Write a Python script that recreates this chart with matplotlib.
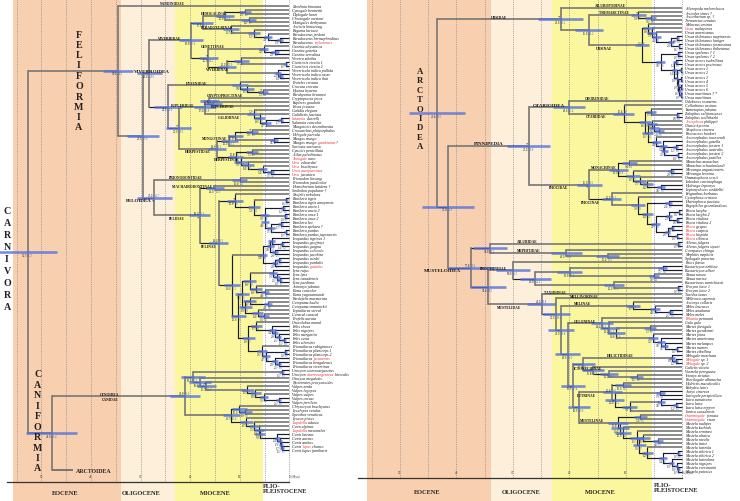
"""
Time-calibrated Carnivora tree: Feliformia + Cynoidea on the left,
Arctoidea (collapsed on the left) expanded on the right.
"""
import re

import matplotlib
matplotlib.use("Agg")
import matplotlib.pyplot as plt  # noqa: E402

plt.rcParams["font.family"] = ["Liberation Serif", "DejaVu Serif"]

OUT = "out.png"

# ── geological time scale (Mya) ───────────────────────────────────────────────
EPOCHS = ["EOCENE", "OLIGOCENE", "MIOCENE", "PLIO-\nPLEISTOCENE"]
EPOCH_OLD = [55.8, 33.9, 23.0, 5.3]
EPOCH_YOUNG = [33.9, 23.0, 5.3, 0.0]
EPOCH_FILL = ["#f8d0b0", "#fdefd9", "#fbf79e", "#ffffff"]
GRID_AGES = [55, 50, 45, 40, 35, 30, 25, 20, 15, 10, 5, 0]
TICK_AGES = [50, 40, 30, 20, 10]

# ── trees ─────────────────────────────────────────────────────────────────────
# "(a,b)AGE/ALT*~HW"  AGE node age (black), ALT second estimate (blue),
# * marked node, ~HW half-width of the blue interval bar.
# =NAME / _NAME  clade name above / below the stem, @AGE  where it is centred.
# [..] red part of a tip name, ^NAME@AGE collapsed clade.
HEMIGALINAE = ("((Cynogale bennettii,Diplogale hosei)9.0/8.1~1.2,"
               "(Chrotogale owstoni,Hemigalus derbyanus)8.2/7.1~1.5)12.9/11.4~1.8=HEMIGALINAE")
PARADOXURINAE = ("(Arctictis binturong,(Paguma larvata,(Paradoxurus jerdoni,"
                 "(Paradoxurus hermaphroditus,Paradoxurus [zeylonensis])1.9/1.7~0.6)4.3/3.8~0.9)"
                 "7.2/6.2~1.2)11.7/9.9~1.6=PARADOXURINAE")
GENETTINAE = ("(Genetta abyssinica,(Genetta genetta,Genetta servalina)2.9/2.6~0.8)"
              "5.2/4.6~1.0=GENETTINAE@15.5")
VIVERRINAE = ("((Viverra zibetha,(Civettictis civetta 1,Civettictis civetta 2)0.7/0.6~0.3)9.7/8.0~1.5,"
              "(Viverricula indica pallida,(Viverricula indica rasse,Viverricula indica thai)1.8/1.4~0.5)"
              "2.2/1.9~0.6)12.5/10.9~1.8_VIVERRINAE")
HYAENIDAE = ("(Proteles cristata,(Crocuta crocuta,(Hyaena hyaena,Parahyaena brunnea)5.3/4.7*~1.0)"
             "8.5/7.6~1.3)9.9/9.2~1.6=HYAENIDAE@18.6")
EUPLERIDAE = ("((Cryptoprocta ferox=CRYPTOPROCTINAE@13,(Eupleres goudotii,Fossa fossana)"
              "15.4/13.9~1.8_EUPLERINAE@13.5)16.1/13.8~2.0,(Galidia elegans,(Galidictis fasciata,"
              "(([Salanoia] durrelli,Salanoia concolor)1.7/1.5~0.5,Mungotictis decemlineata)4.7/3.9~1.0)"
              "6.0/5.3~1.1)7.2/6.3~1.3_GALIDIINAE)17.0/16.8~2.2=EUPLERIDAE@21.5")
HERPESTIDAE = ("((((Crossarchus platycephalus,Helogale parvula)7.6/6.8*~1.2,(Mungos mungo,"
               "Mungos mungo [gambianus] ?)3.1/2.7~0.8)10.9/9.6~1.5,Suricata suricatta)12.1/11.2~1.7"
               "=MUNGOTINAE@15,((Cynictis penicillata,Atilax paludinosus)7.5/6.6~1.2,([Xenogale] naso,"
               "([Urva] edwardsii,([Urva] brachyura,([Urva auropunctata],[Urva] javanica)3.7/3.2~0.7)"
               "5.4/4.9~0.9)8.4/7.4~1.2)9.8/8.6~1.4)10.8/9.6~1.5_HERPESTINAE)14.6/13.2~1.8_HERPESTIDAE")
PANTHERA = ("((Panthera tigris,Panthera tigris amoyensis)0.6/0.5~0.3,((Panthera uncia 1,Panthera uncia 2)"
            "1.2/1.0~0.4,((Panthera onca 1,Panthera onca 2)0.8/0.7~0.3,((Panthera leo,Panthera spelaea †)"
            "1.7/1.5~0.5,(Panthera pardus,Panthera pardus japonensis)0.7/0.6~0.3)3.7/3.2~0.8)4.9/4.3~0.9)"
            "5.0/4.5~1.0)7.2/6.4~1.2")
LEOPARDUS = ("(((Leopardus tigrinus 1,(Leopardus geoffroyi,Leopardus guigna)1.4/1.2~0.4)3.5/3.1~0.7,"
             "(Leopardus colocolo,Leopardus jacobita)2.8/2.5~0.6)3.8/3.4~0.8,((Leopardus wiedii,"
             "Leopardus pardalis)2.1/1.8~0.5,Leopardus [guttulus])2.8/2.5~0.6)5.4/4.8~1.0")
LYNX = "(Lynx rufus,(Lynx lynx,(Lynx canadensis,Lynx pardinus)1.9/1.7~0.5)2.5/2.2~0.6)3.3/2.9~0.8"
PUMA = "(Acinonyx jubatus,(Puma concolor,Puma yagouaroundi)4.9/4.3~0.9)6.8/6.0~1.2"
BAYCAT = "(Pardofelis marmorata,(Catopuma badia,Catopuma temminckii)4.3/3.8~0.9)8.0/7.1~1.3"
CARACAL = "(Leptailurus serval,(Caracal caracal,Profelis aurata)5.1/4.5~1.0)6.4/5.7~1.1"
FELIS = ("(Felis chaus,(Felis nigripes,(Felis margarita,(Felis catus,Felis silvestris)1.1/1.0~0.4)"
         "2.1/1.8~0.5)2.8/2.4~0.6)3.4/3.0~0.7")
PRIONAILURUS = ("(Prionailurus rubiginosus,((Prionailurus planiceps 1,Prionailurus planiceps 2)0.8/0.7~0.3,"
                "(Prionailurus [javanensis],(Prionailurus bengalensis,Prionailurus viverrinus)2.1/1.8~0.5)"
                "2.9/2.6~0.6)4.7/4.1~0.9)5.6/4.9~1.0")
VULPES = ("(Vulpes zerda,(Vulpes lagopus,(Vulpes vulpes,(Vulpes corsac,Vulpes ferrilata)2.1/1.8~0.5)"
          "5.1/4.5~0.9)6.9/6.1~1.1)8.5/7.8~1.3")
CANINI = ("(Lycaon pictus,([Lupulella] adusta,(Cuon alpinus,([Lupulella] mesomelas,(Canis latrans,"
          "(Canis aureus,(Canis anthus,(Canis [lupus] chanco,Canis lupus familiaris)1.5/1.3~0.4)"
          "1.7/1.5~0.4)1.9/1.7~0.5)2.4/2.1~0.5)5.9/5.2~1.0)6.2/5.5~1.0)7.1/6.3~1.1)8.7/7.7~1.3")

VIVERRIDAE = (f"(({HEMIGALINAE},{PARADOXURINAE})17.5/13.8~2.2,({GENETTINAE},{VIVERRINAE})"
              f"16.3/14.2*~2.0)19.9/17.6~2.4=VIVERRIDAE")
VIVERROIDEA = (f"({VIVERRIDAE},({HYAENIDAE},({EUPLERIDAE},{HERPESTIDAE})22.3/21.3*~2.5)"
               f"24.5/22.0~2.8)28.2/23.6~2.6=VIVERROIDEA@27.7")
FELINAE = (f"((Neofelis nebulosa,{PANTHERA})10.9/9.6*~1.6,({LEOPARDUS},((({LYNX},{PUMA})8.0/7.0~1.3,"
           f"({BAYCAT},{CARACAL})8.9/7.8~1.3)9.6/8.5~1.4,((Otocolobus manul,{FELIS})6.7/5.9~1.1,"
           f"{PRIONAILURUS})8.3/7.3~1.3)10.3/9.1~1.5)11.6/10.3~1.6)14.2/13.3~1.9_FELINAE")
FELOIDEA = (f"((Prionodon linsang,Prionodon pardicolor)10.0/8.4~1.5=PRIONODONTIDAE@20.8,"
            f"((Homotherium latidens †,Smilodon populator †)14.9/12.9~1.8=MACHAIRODONTINAE †@19.3,"
            f"{FELINAE})18.1/15.6*~2.2_FELIDAE)27.2/26.7*~3.5_FELOIDEA@30.3")
FELIFORMIA = f"(Nandinia binotata=NANDINIIDAE@23.5,({VIVERROIDEA},{FELOIDEA})29.5/27.0~3.2)34.6/31.1~3.0"
CANIDAE = (f"(((Urocyon cinereoargenteus,Urocyon [cinereoargenteus] littoralis)1.5/1.3~0.5,"
           f"(Otocyon megalotis,(Nyctereutes procyonoides,{VULPES})16.7/14.8*~2.0)18.0/16.2~2.2)"
           f"19.5/17.4~2.4,((Chrysocyon brachyurus,(Lycalopex vetulus,Speothos venaticus)8.9/7.9~1.3)"
           f"10.1/9.0~1.5,{CANINI})11.7/10.4~1.7)21.0/19.4~3.0=CYNOIDEA@36.3_CANIDAE@36.1")
LEFT_TREE = f"({FELIFORMIA},({CANIDAE},^ARCTOIDEA@43.6)47.9/45.4~5.1)52.7/56.7~5.8"

URSIDAE = ("(Ailuropoda melanoleuca=AILUROPODINAE@12.7,((Arctodus simus †,(Arctotherium sp. †,"
           "Tremarctos ornatus)5.6/4.8~1.0)7.8/6.5*~1.3=TREMARCTINAE,((Melursus ursinus,([Ursus] malayanus,"
           "(Ursus americanus,((Ursus thibetanus mupinensis,Ursus thibetanus laniger)0.9/0.8~0.3,"
           "(Ursus thibetanus formosanus,Ursus thibetanus thibetanus)0.6/0.5~0.2)2.0/1.8~0.5)4.6/4.0~0.8)"
           "5.3/4.6~0.9)6.0/5.3~1.0,((Ursus spelaeus † 1,Ursus spelaeus † 2)0.7/0.6~0.3,"
           "((Ursus arctos isabellinus,Ursus arctos pruinosus)1.2/1.0~0.4,((Ursus arctos 1,Ursus arctos 2)"
           "0.3/0.3~0.2,((Ursus arctos 3,Ursus arctos 4)0.2/0.2~0.1,((Ursus arctos 5,Ursus arctos 6)"
           "0.2/0.2~0.1,(Ursus maritimus † *,Ursus maritimus)0.3/0.2~0.2)0.5/0.4~0.2)0.7/0.6~0.3)"
           "1.0/0.9~0.3)1.4/1.2~0.4)3.8/3.3~0.8)7.1/6.6~1.2_URSINAE@13.8)16.5/14.2~2.5)21.5/18.1*~4.0=URSIDAE")
OTARIIDAE = ("(Callorhinus ursinus,((Eumetopias jubatus,(Zalophus californianus,Zalophus wollebaeki)"
             "0.9/0.8~0.3)5.5/4.8~0.9,(([Arctophoca] philippii,(Otaria byronia,(Neophoca cinerea,"
             "Phocarctos hookeri)4.1/3.6~0.8)5.0/4.4~0.9)5.3/4.6~0.9,(Arctocephalus townsendi,"
             "(Arctocephalus gazella,((Arctocephalus forsteri 1,Arctocephalus australis)1.2/1.0~0.4,"
             "(Arctocephalus forsteri 2,Arctocephalus pusillus)0.8/0.7~0.3)3.2/2.8~0.6)3.4/3.0~0.7)"
             "4.6/4.0~0.8)6.1/5.4~1.0)6.6/5.8~1.1)10.4/9.2~1.8_OTARIIDAE")
MONACHINAE = ("((Monachus monachus,Monachus schauinslandi)9.4/8.4~1.3,((Mirounga angustirostris,"
              "Mirounga leonina)2.0/1.8~0.5,(Ommatophoca rossii,(Lobodon carcinophaga,(Hydrurga leptonyx,"
              "Leptonychotes weddellii)3.8/3.3~0.7)6.2/5.4~1.0)7.5/6.6~1.1)8.7/7.7~1.2)11.3/10.6~1.6"
              "=MONACHINAE")
PHOCINAE = ("(Erignathus barbatus,(Cystophora cristata,((Histriophoca fasciata,Pagophilus groenlandicus)"
            "2.4/2.1~0.6,(((Phoca largha,Phoca largha 2)0.6/0.5~0.2,(Phoca vitulina,Phoca vitulina 2)"
            "0.9/0.8~0.3)2.3/2.0~0.5,(([Phoca] grypus,[Phoca] caspica)1.8/1.6~0.4,([Phoca] hispida,"
            "[Phoca] sibirica)1.0/0.9~0.3)2.6/2.2~0.5)4.7/4.1~0.8)6.2/5.4~1.0)7.8/6.9~1.2)"
            "12.5/11.3~1.7_PHOCINAE@16.3")
MEPHITIDAE = "(Conepatus chinga,(Mephitis mephitis,Spilogale putorius)13.2/11.6~2.0)20.5/19.0~2.8=MEPHITIDAE"
PROCYONIDAE = ("(Potos flavus,(((Bassaricyon neblina,Bassaricyon alleni)3.5/3.0~0.8,(Nasua nasua,"
               "Nasua narica)5.0/4.4~0.9)19.9/16.8~2.2,(Bassariscus sumichrasti,(Procyon lotor 1,"
               "Procyon lotor 2)0.7/0.6~0.3)12.1/10.6~1.8)26.0/25.1~2.8)30.0/26.3~3.0=PROCYONIDAE@33.5")
MELINAE = "(Arctonyx collaris,(Meles leucurus,(Meles anakuma,Meles meles)2.1/1.8~0.5)4.9/4.3~0.9)8.7/7.7~1.3"
GULONINAE = ("([Pekania] pennanti,(Gulo gulo,((Martes flavigula,Martes gwatkinsii)5.7/5.0~1.0,"
             "(Martes foina,(Martes americana,(Martes melampus,(Martes martes,Martes zibellina)1.0/0.9~0.3)"
             "3.1/2.7~0.6)3.8/3.3~0.7)5.2/4.6~0.9)11.8/10.4~1.6)12.9/11.4~1.7)14.2/12.6~1.9=GULONINAE")
HELICTIDINAE = ("(Melogale moschata,([Melogale] sp. 1,[Melogale] sp. 2)1.2/1.1~0.4)1.8/1.7~0.5"
                "=HELICTIDINAE@11")
ICTONYCHINAE = ("(Galictis vittata,(Vormela peregusna,(Ictonyx striatus,Poecilogale albinucha)8.1/7.2~1.2)"
                "12.9/11.6~1.6)15.8/13.9~1.9=ICTONYCHINAE")
LUTRINAE = ("((Hydrictis maculicollis,Enhydra lutris)10.5/9.2~1.5,((Aonyx cinereus,Lutrogale perspicillata)"
            "3.9/3.4~0.8,((Lutra sumatrana,(Lutra lutra,Lutra lutra nippon)1.2/1.1~0.4)3.8/3.3~0.7,"
            "Lontra canadensis)9.3/8.1~1.3)12.0/11.2~1.6)12.4/11.0~1.7_LUTRINAE@17")
MUSTELA_A = "(Mustela altaica,(Mustela nivalis,Mustela itatsi)4.3/3.9~0.8)6.9/6.1~1.1"
MUSTELA_B = ("(Mustela lutreola,((Mustela sibirica 1,Mustela sibirica 2)0.7/0.6~0.3,(Mustela lutreolina,"
             "(Mustela nigripes,(Mustela eversmanii,Mustela putorius)0.7/0.6~0.3)1.0/0.9~0.3)1.9/1.7~0.5)"
             "3.4/3.0~0.7)6.2/5.5~1.0")
MUSTELINAE = (f"(([Grammogale] frenata,[Grammogale] vison)7.4/6.5~1.2,(Mustela nudipes,(Mustela kathiah,"
              f"(Mustela erminea,({MUSTELA_A},{MUSTELA_B})7.6/6.7~1.1)8.1/7.1~1.2)10.5/9.2~1.5)11.0/10.1~1.6)"
              f"11.4/9.8~1.7=MUSTELINAE@16")
MUSTELIDAE = (f"(Taxidea taxus=TAXIDIINAE@22.5,(Mellivora capensis=MELLIVORINAE@17.4,({MELINAE}=MELINAE@17.7,"
              f"({GULONINAE},(({HELICTIDINAE},{ICTONYCHINAE})17.5/15.3~2.0,({LUTRINAE},{MUSTELINAE})"
              f"18.3/18.0~2.0)19.3/17.4~2.1)20.3/19.0~2.2)21.5/18.8~2.3)22.3/19.6~2.4)24.9/21.8~2.6"
              f"_MUSTELIDAE@30.6")
PINNIPEDIA = (f"((Odobenus rosmarus=ODOBENIDAE@15,{OTARIIDAE})20.1/16.4~2.8=OTARIOIDEA,"
              f"({MONACHINAE},{PHOCINAE})16.5/13.6*~2.2_PHOCIDAE)27.2/22.9*~3.8=PINNIPEDIA")
MUSTELOIDEA = (f"(((Ailurus fulgens,Ailurus fulgens styani)0.7/0.6~0.3=AILURIDAE@27.5,{MEPHITIDAE})"
               f"34.0/30.2~3.0,({PROCYONIDAE},{MUSTELIDAE})34.4/30.5~3.2)37.4/33.4~4.0_MUSTELOIDEA@42.5")
RIGHT_TREE = f"({URSIDAE},({PINNIPEDIA},{MUSTELOIDEA})41.4/36.9~4.6)43.4/38.5~4.9"

BIG_LABELS = {"VIVERROIDEA", "FELOIDEA", "OTARIOIDEA", "PINNIPEDIA", "MUSTELOIDEA"}

GREY, DARK = "#767676", "#1a1c2e"
BAR_BLUE, TXT_BLUE, RED = "#5672dc", "#3d6fd4", "#e5262b"

LABEL_RE = re.compile(r"([=_])([^=_@]+)(?:@([\d.]+))?")
AGE_RE = re.compile(r"([\d.]+)(?:/([\d.]+))?(\*)?(?:~([\d.]+))?$")


def make_node(tok, kids):
    labels = [(m.group(1), m.group(2).strip(), float(m.group(3)) if m.group(3) else None)
              for m in LABEL_RE.finditer(tok)]
    head = re.split(r"[=_]", tok, maxsplit=1)[0].strip()
    n = {"kids": kids, "labels": labels, "collapsed": False}
    if kids:
        m = AGE_RE.match(head)
        n.update(age=float(m.group(1)), age_txt=m.group(1), blue=m.group(2),
                 star=bool(m.group(3)), hw=float(m.group(4) or 0))
    elif head.startswith("^"):
        name, age = head[1:].split("@")
        n.update(name=name, age=float(age), collapsed=True)
    else:
        n.update(name=head, age=0.0)
    return n


def parse(text):
    pos = 0

    def token():
        nonlocal pos
        start = pos
        while pos < len(text) and text[pos] not in ",)":
            pos += 1
        return text[start:pos].strip()

    def node():
        nonlocal pos
        kids = []
        if text[pos] == "(":
            pos += 1
            kids.append(node())
            while text[pos] == ",":
                pos += 1
                kids.append(node())
            pos += 1
        return make_node(token(), kids)

    root = node()
    assert pos == len(text), text[pos:pos + 40]
    return root


def tip_text(ax, x, y, name):
    prev = None
    for part in re.split(r"(\[[^\]]*\])", name):
        if not part:
            continue
        red = part.startswith("[")
        kw = dict(fontsize=2.8, fontstyle="italic", color=RED if red else "#111", zorder=5)
        txt = part.strip("[]")
        if prev is None:
            prev = ax.annotate(txt, (x, y), xytext=(2.0, 0), textcoords="offset points",
                               ha="left", va="center", **kw)
        else:
            prev = ax.annotate(txt, (1, 0), xycoords=prev, ha="left", va="bottom", **kw)


def draw_tree(ax, root, y_first, y_last, gap):
    count = [0, 0]

    def lay(n):
        if n["kids"]:
            for k in n["kids"]:
                lay(k)
            n["slot"] = (n["kids"][0]["slot"] + n["kids"][-1]["slot"]) / 2
        else:
            if n["collapsed"]:
                count[0] += gap
            else:
                count[1] += 1
            n["slot"] = count[0]
            count[0] += 1

    lay(root)
    dy = (y_last - y_first) / (count[1] - 1)

    def go(n, parent):
        y = y_first + dy * n["slot"]
        if parent is not None:
            long_branch = parent["age"] - n["age"] > 4
            ax.plot([parent["age"], n["age"]], [y, y], color=GREY if long_branch else DARK,
                    lw=1.4 if n["collapsed"] else (1.2 if long_branch else 0.85),
                    solid_capstyle="butt", zorder=2)
            for side, name, at in n["labels"]:
                xc = at if at is not None else (parent["age"] + n["age"]) / 2
                ax.annotate(name, (xc, y), xytext=(0, 0.4 if side == "=" else -0.4),
                            textcoords="offset points", ha="center",
                            va="bottom" if side == "=" else "top",
                            fontsize=3.6 if name in BIG_LABELS else 2.6,
                            fontweight="bold", color="#111", zorder=5)
        if n["kids"]:
            ys = [y_first + dy * k["slot"] for k in n["kids"]]
            ax.plot([n["age"], n["age"]], [ys[0], ys[-1]], color=GREY if n["age"] > 12 else DARK,
                    lw=1.2 if n["age"] > 12 else 0.85, zorder=2)
            for k in n["kids"]:
                go(k, n)
            if n["hw"]:
                ax.plot([n["age"] + n["hw"], n["age"] - n["hw"]], [y, y], color=BAR_BLUE, lw=1.9,
                        alpha=0.8, solid_capstyle="butt", zorder=3)
            # number goes above the branch when the clade name sits below it
            below_name = any(side == "_" for side, _, _ in n["labels"])
            dy_pt, va = (0.5, "bottom") if below_name else (-0.5, "top")
            ax.annotate(n["age_txt"] + "/", (n["age"], y), xytext=(0, dy_pt), textcoords="offset points",
                        ha="right", va=va, fontsize=2.2, color="#222", zorder=4)
            if n["blue"]:
                ax.annotate(n["blue"], (n["age"], y), xytext=(0, dy_pt), textcoords="offset points",
                            ha="left", va=va, fontsize=2.2, color=TXT_BLUE, zorder=4)
            if n["star"]:
                ax.annotate("*", (n["age"], y), xytext=(-0.4, -0.3 if below_name else 0.2),
                            textcoords="offset points", ha="right",
                            va="top" if below_name else "bottom", fontsize=3.2, color="#111", zorder=4)
        elif n["collapsed"]:
            ax.annotate(n["name"], (n["age"], y), xytext=(2.0, 0), textcoords="offset points",
                        ha="left", va="center", fontsize=4.2, fontweight="bold", color="#222")
        else:
            tip_text(ax, 0.0, y, n["name"])

    go(root, None)


def time_background(ax, axis_y, axis_from, tick_y, epoch_y, epoch_x):
    for old, young, col in zip(EPOCH_OLD, EPOCH_YOUNG, EPOCH_FILL):
        ax.axvspan(old, young, color=col, lw=0, zorder=0)
    ax.vlines(GRID_AGES, 0, axis_y, colors="#8c8c8c", lw=0.5, linestyles=(0, (1.6, 1.6)), zorder=1)
    ax.plot([axis_from, 0], [axis_y, axis_y], color="#333", lw=0.9, zorder=2)
    for a in TICK_AGES:
        ax.text(a, tick_y, str(a), ha="center", va="center", fontsize=2.3, color="#333")
    ax.text(0, tick_y, "0 (Mya)", ha="left", va="center", fontsize=2.3, color="#333")
    for name, x in zip(EPOCHS, epoch_x):
        multi = "\n" in name
        ax.text(x, epoch_y - (5 if multi else 0), name, ha="left" if multi else "center", va="center",
                fontsize=4.6, fontweight="bold", color="#222", linespacing=1.15)


def vertical_word(ax, word, x, y0, y1, size):
    step = (y1 - y0) / (len(word) - 1)
    for i, ch in enumerate(word):
        ax.text(x, y0 + i * step, ch, ha="center", va="center", fontsize=size,
                fontweight="bold", color="#222", zorder=5)


fig = plt.figure(figsize=(7.4, 5.02), dpi=100)
fig.patch.set_facecolor("white")

# ── left: Feliformia + Cynoidea ───────────────────────────────────────────────
axL = fig.add_axes([0, 0, 366 / 740, 1])
axL.set_xlim(58.33, -15.46)
axL.set_ylim(502, 0)
axL.axis("off")
time_background(axL, 483, 56.9, 477, 494, [45.2, 29.9, 15.0, 5.3])
draw_tree(axL, parse(LEFT_TREE), 6.7, 451.0, 4)
vertical_word(axL, "FELIFORMIA", 42.4, 35, 128, 7.2)
vertical_word(axL, "CARNIVORA", 56.9, 212, 308, 7.2)
vertical_word(axL, "CANIFORMIA", 50.7, 375, 469, 7.2)

# ── right: Arctoidea ──────────────────────────────────────────────────────────
axR = fig.add_axes([356 / 740, 0, 384 / 740, 1])
axR.patch.set_alpha(0)
axR.set_xlim(57.75, -10.21)
axR.set_ylim(502, 0)
axR.axis("off")
time_background(axR, 479, 57.4, 473, 493, [45.1, 28.5, 14.6, 5.1])
draw_tree(axR, parse(RIGHT_TREE), 9.0, 472.5, 0)
vertical_word(axR, "ARCTOIDEA", 46.4, 72, 147, 6.3)

fig.savefig(OUT, dpi=100, facecolor="white")
print("Saved ->", OUT)
